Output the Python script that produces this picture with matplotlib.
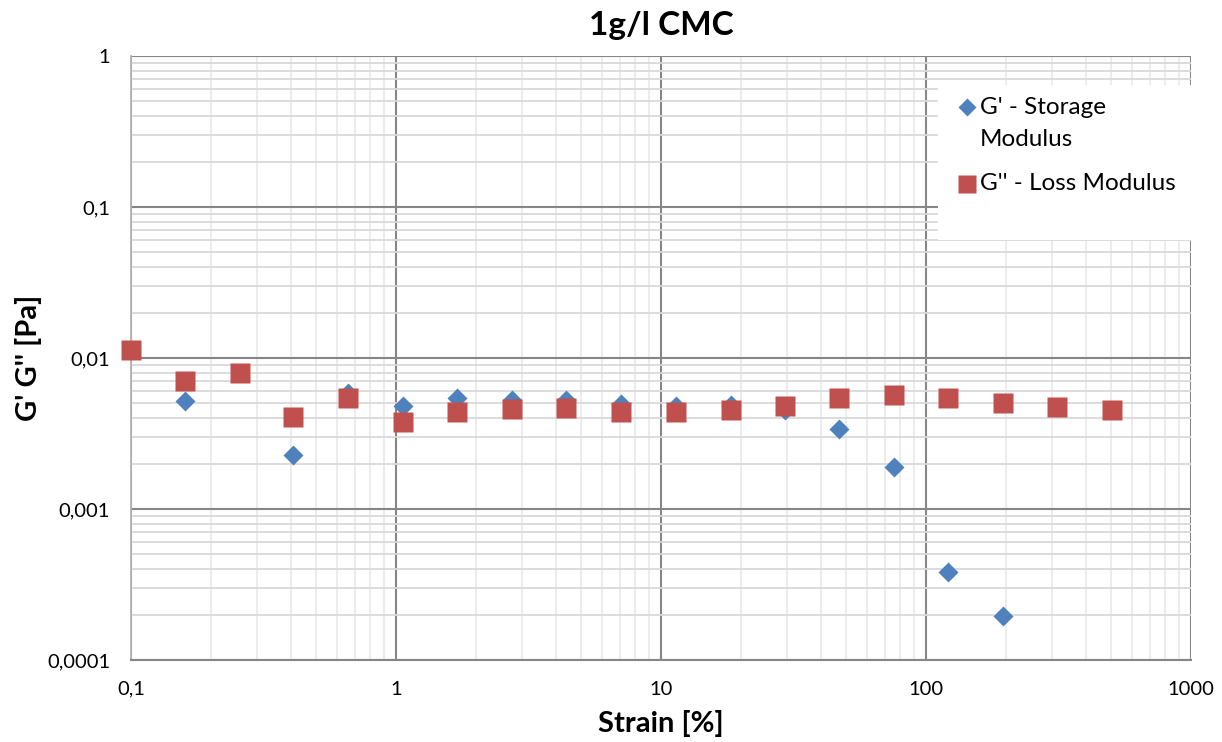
import numpy as np
import matplotlib.pyplot as plt
from matplotlib.patches import Rectangle
from matplotlib.lines import Line2D
from matplotlib.ticker import LogLocator, FixedLocator, FixedFormatter, NullFormatter

plt.rcParams['font.family'] = ['Lato', 'DejaVu Sans']

# strain sweep, 1 g/l CMC
strain_gpp = [0.1, 0.16, 0.258, 0.409, 0.659, 1.06, 1.70, 2.74, 4.38, 7.06,
              11.4, 18.4, 29.4, 47.0, 75.7, 121, 195, 312, 503]
g_loss = [0.0113, 0.00704, 0.00796, 0.00407, 0.00543, 0.00377, 0.00439, 0.00459,
          0.00467, 0.00439, 0.00439, 0.00453, 0.0048, 0.00543, 0.00569, 0.00543,
          0.00504, 0.00474, 0.00453]

strain_gp = [0.16, 0.409, 0.659, 1.06, 1.70, 2.74, 4.38, 7.06, 11.4, 18.4,
             29.4, 47.0, 75.7, 121, 195]
g_storage = [0.00519, 0.00228, 0.00586, 0.00481, 0.00543, 0.00525, 0.00525,
             0.00496, 0.00481, 0.00488, 0.00453, 0.00339, 0.0019, 0.000383,
             0.000196]

xticks = [0.1, 1, 10, 100, 1000]
xlabels = ['0,1', '1', '10', '100', '1000']
yticks = [0.0001, 0.001, 0.01, 0.1, 1]
ylabels = ['0,0001', '0,001', '0,01', '0,1', '1']

blue = '#4F81BD'
red = '#C0504D'

fig = plt.figure(figsize=(12.22, 7.42), dpi=100)
ax = fig.add_axes([131/1222, 1-660/742, 1060/1222, 604/742])

ax.set_xscale('log')
ax.set_yscale('log')
ax.set_xlim(0.1, 1000)
ax.set_ylim(0.0001, 1)

ax.xaxis.set_major_locator(FixedLocator(xticks))
ax.xaxis.set_major_formatter(FixedFormatter(xlabels))
ax.yaxis.set_major_locator(FixedLocator(yticks))
ax.yaxis.set_major_formatter(FixedFormatter(ylabels))
ax.xaxis.set_minor_locator(LogLocator(base=10, subs=np.arange(2, 10), numticks=20))
ax.yaxis.set_minor_locator(LogLocator(base=10, subs=np.arange(2, 10), numticks=20))
ax.xaxis.set_minor_formatter(NullFormatter())
ax.yaxis.set_minor_formatter(NullFormatter())

ax.grid(True, which='major', color='#868686', lw=1.5, zorder=1)
ax.grid(True, which='minor', axis='y', color='#d9d9d9', lw=1.3, zorder=0)
ax.grid(True, which='minor', axis='x', color='#ebebeb', lw=1.3, zorder=0)
ax.set_axisbelow(True)
ax.tick_params(which='both', length=0, labelsize=14.5)
ax.tick_params(axis='x', pad=15)
ax.tick_params(axis='y', pad=15)

for s in ['top', 'right']:
    ax.spines[s].set_visible(False)
ax.spines['left'].set_color('#b3b3b3')
ax.spines['left'].set_linewidth(1.3)
ax.spines['bottom'].set_color('#868686')
ax.spines['bottom'].set_linewidth(1.5)

ax.plot(strain_gp, g_storage, 'D', color=blue, ms=10.5, mec='none',
        zorder=3, clip_on=False)
ax.plot(strain_gpp, g_loss, 's', color=red, ms=14.5, mec='none',
        zorder=4, clip_on=False)

ax.set_title('1g/l CMC', fontsize=24, fontweight='bold', pad=15)
ax.set_xlabel('Strain [%]', fontsize=21, fontweight='bold', labelpad=9)
ax.set_ylabel("G' G'' [Pa]", fontsize=21, fontweight='bold', labelpad=3.5)

# legend box: white patch over the grid, marker aligned with first text line
W, H = 1222, 742
fig.add_artist(Rectangle((938/W, 1-240/H), 257/W, 155/H,
                         transform=fig.transFigure, facecolor='white',
                         edgecolor='none', zorder=5))
fig.add_artist(Line2D([967/W], [1-107/H], transform=fig.transFigure,
                      marker='D', ms=9.5, color=blue, mec='none', zorder=6))
fig.add_artist(Line2D([967/W], [1-184/H], transform=fig.transFigure,
                      marker='s', ms=13, color=red, mec='none', zorder=6))
fig.text(980/W, 1-107/H, "G' - Storage", fontsize=17.5, va='center', zorder=6)
fig.text(980/W, 1-140/H, "Modulus", fontsize=17.5, va='center', zorder=6)
fig.text(980/W, 1-184/H, "G'' - Loss Modulus", fontsize=17.5, va='center', zorder=6)

fig.savefig('out.png', dpi=100)
